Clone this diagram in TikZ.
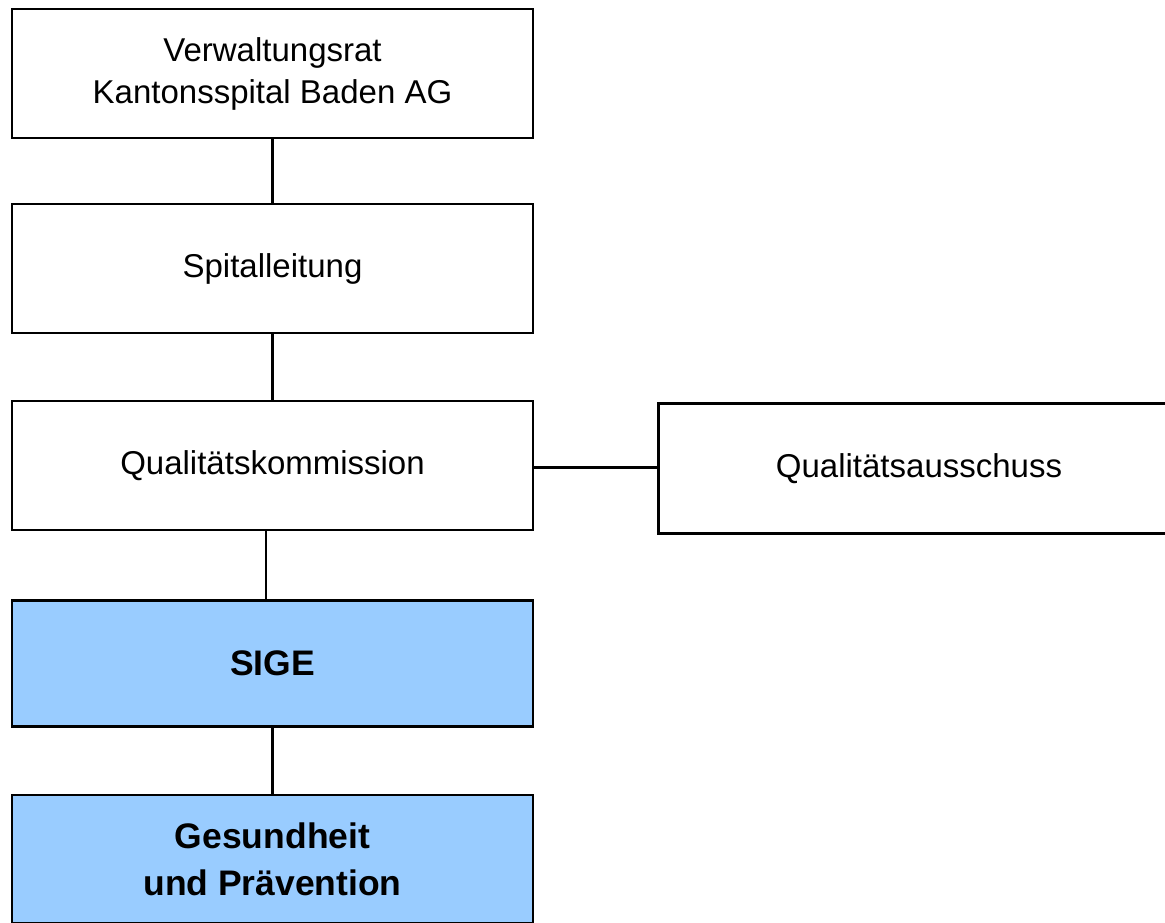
\documentclass[tikz,border=0pt]{standalone}
\usepackage{fontspec}
\setmainfont{Liberation Sans}
\definecolor{sigeblue}{HTML}{99CCFF}
\begin{document}
\begin{tikzpicture}[x=1pt,y=-1pt,
    box/.style={draw,line width=2.6pt,minimum width=521pt,minimum height=129pt,
      inner sep=0pt,align=center,font=\fontsize{33}{42}\selectfont},
    bluebox/.style={box,fill=sigeblue,font=\bfseries\fontsize{35.5}{47}\selectfont},
    link/.style={line width=2.4pt}]
  \useasboundingbox (0,0) rectangle (1165,922);
  \node[box] (verwaltung) at (272.5,73.5) {Verwaltungsrat\\Kantonsspital Baden AG};
  \node[box] (spital) at (272.5,268.5) {Spitalleitung};
  \node[box] (kommission) at (272.5,465.5) {Qualitätskommission};
  \node[box,minimum height=130pt] (ausschuss) at (919,468.5) {Qualitätsausschuss};
  \node[bluebox,minimum height=126pt] (sige) at (272.5,663.5) {SIGE};
  \node[bluebox,minimum height=128pt] (gesundheit) at (272.5,859) {Gesundheit\\und Prävention};
  \draw[link] (verwaltung) -- (spital);
  \draw[link] (spital) -- (kommission);
  \draw[link] ([xshift=-6.5pt]kommission.south) -- ([xshift=-6.5pt]sige.north);
  \draw[link] (sige) -- (gesundheit);
  \draw[link] ([yshift=-2pt]kommission.east) -- ([yshift=-2pt]kommission.east -| ausschuss.west);
\end{tikzpicture}
\end{document}
